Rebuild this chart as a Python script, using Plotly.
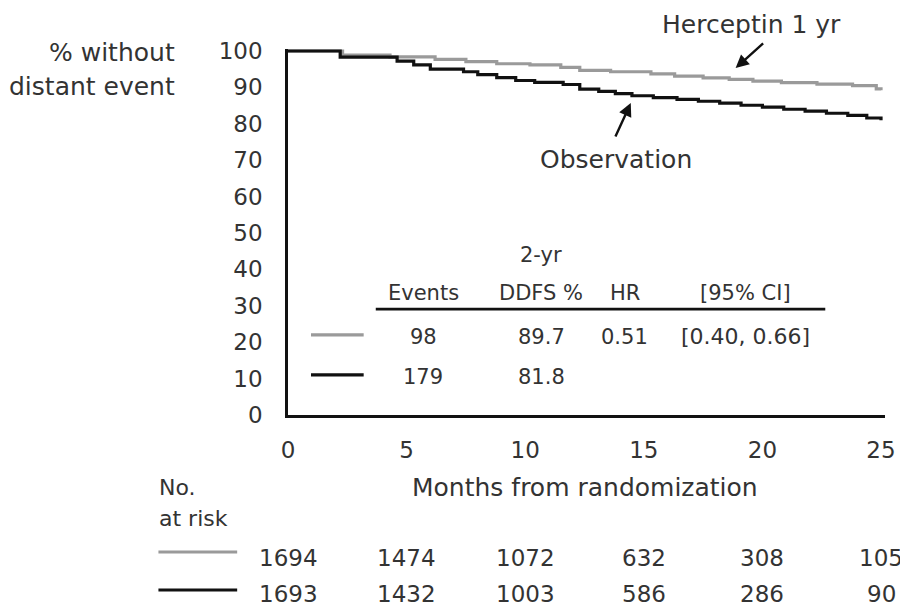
import plotly.graph_objects as go

# ---------------- data ----------------
herceptin_months = [0, 2.3, 4.3, 6.2, 7.5, 8.8, 10.2, 11.5, 12.3, 13.6, 15.3, 16.3, 17.5, 18.6, 19.6, 20.8, 22.3, 23.8, 24.8, 25.0]
herceptin_surv = [100, 98.9, 98.4, 97.7, 97.1, 96.5, 96.2, 95.5, 94.7, 94.3, 93.7, 93.1, 92.6, 92.2, 91.7, 91.3, 90.9, 90.5, 89.6, 89.2]

observation_months = [0, 2.2, 4.6, 5.3, 6.0, 7.4, 8.0, 8.8, 9.6, 10.4, 11.6, 12.3, 13.1, 13.8, 14.5, 15.4, 16.4, 17.3, 18.2, 19.1, 20.0, 20.9, 21.8, 22.7, 23.6, 24.4, 25.0]
observation_surv = [100, 98.3, 97.2, 96.2, 95.0, 94.3, 93.5, 92.7, 91.9, 91.4, 90.8, 89.5, 88.9, 88.3, 87.7, 87.2, 86.7, 86.2, 85.7, 85.1, 84.6, 84.0, 83.5, 82.9, 82.3, 81.6, 81.0]

x_ticks = [0, 5, 10, 15, 20, 25]
y_ticks = [0, 10, 20, 30, 40, 50, 60, 70, 80, 90, 100]

at_risk_months = [0, 5, 10, 15, 20, 25]
at_risk_herceptin = [1694, 1474, 1072, 632, 308, 105]
at_risk_observation = [1693, 1432, 1003, 586, 286, 90]

table_header = ["Events", "DDFS %", "HR", "[95% CI]"]
events = [98, 179]
ddfs_2yr = [89.7, 81.8]
hr_text = "0.51"
ci_text = "[0.40, 0.66]"

GRAY = "#9a9a9a"
BLACK = "#111111"
TXT = "#333333"
FONT = "DejaVu Sans"

# ---------------- layout geometry ----------------
# the page body has an 8px margin, so the figure is drawn 8px right/down
OFF = 8
W, H = 900, 598
# screen coordinates of the plot area
SX0, SX1, SY0, SY1 = 288, 887, 49, 415
ML, MR = SX0 - OFF, W - (SX1 - OFF)
MT, MB = SY0 - OFF, H - (SY1 - OFF)
PH = SY1 - SY0
PW = SX1 - SX0


def py(Y):
    """screen pixel row -> paper y"""
    return (SY1 - Y) / PH


def pxp(X):
    """screen pixel column -> paper x"""
    return (X - SX0) / PW


fig = go.Figure()
fig.add_trace(go.Scatter(x=herceptin_months, y=herceptin_surv, mode="lines",
                         line=dict(color=GRAY, width=3.2, shape="hv"), showlegend=False))
fig.add_trace(go.Scatter(x=observation_months, y=observation_surv, mode="lines",
                         line=dict(color=BLACK, width=3.2, shape="hv"), showlegend=False))

ann = []
shapes = []

# axis-side labels
ann.append(dict(x=pxp(177), y=py(52), xref="paper", yref="paper", text="% without",
                showarrow=False, xanchor="right", yanchor="middle", font=dict(size=25)))
ann.append(dict(x=pxp(177), y=py(86), xref="paper", yref="paper", text="distant event",
                showarrow=False, xanchor="right", yanchor="middle", font=dict(size=25)))
ann.append(dict(x=pxp(586), y=py(488), xref="paper", yref="paper", text="Months from randomization",
                showarrow=False, xanchor="center", yanchor="middle", font=dict(size=25)))

# curve labels + arrows
ann.append(dict(x=pxp(753), y=py(25), xref="paper", yref="paper", text="Herceptin 1 yr", showarrow=False,
                xanchor="center", yanchor="middle", font=dict(size=25)))
ann.append(dict(x=18.87, y=95.3, xref="x", yref="y", text="", showarrow=True, ax=29, ay=-26,
                arrowhead=2, arrowsize=1.1, arrowwidth=2.4, arrowcolor=BLACK))
ann.append(dict(x=13.82, y=70.3, xref="x", yref="y", text="Observation", showarrow=False,
                xanchor="center", yanchor="middle", font=dict(size=25)))
ann.append(dict(x=14.45, y=85.7, xref="x", yref="y", text="", showarrow=True, ax=-16, ay=35,
                arrowhead=2, arrowsize=1.1, arrowwidth=2.4, arrowcolor=BLACK))

# inset table
col_x = [5.71, 10.67, 14.2, 19.29]
for cx, t in zip(col_x, table_header):
    ann.append(dict(x=cx, y=33.6, xref="x", yref="y", text=t, showarrow=False,
                    xanchor="center", yanchor="middle", font=dict(size=21)))
ann.append(dict(x=col_x[1], y=44.0, xref="x", yref="y", text="2-yr", showarrow=False,
                xanchor="center", yanchor="middle", font=dict(size=21)))
shapes.append(dict(type="line", xref="x", yref="y", x0=3.7, x1=22.65, y0=29.1, y1=29.1,
                   line=dict(color=BLACK, width=2.6)))
row_y = [21.5, 10.5]
row_col = [GRAY, BLACK]
for i in range(2):
    shapes.append(dict(type="line", xref="x", yref="y", x0=0.97, x1=3.19,
                       y0=row_y[i] + 0.5, y1=row_y[i] + 0.5, line=dict(color=row_col[i], width=3.2)))
    ann.append(dict(x=col_x[0], y=row_y[i], xref="x", yref="y", text=str(events[i]),
                    showarrow=False, xanchor="center", yanchor="middle", font=dict(size=21)))
    ann.append(dict(x=col_x[1], y=row_y[i], xref="x", yref="y", text=f"{ddfs_2yr[i]:.1f}",
                    showarrow=False, xanchor="center", yanchor="middle", font=dict(size=21)))
ann.append(dict(x=col_x[2], y=row_y[0], xref="x", yref="y", text=hr_text, showarrow=False,
                xanchor="center", yanchor="middle", font=dict(size=21)))
ann.append(dict(x=col_x[3], y=row_y[0], xref="x", yref="y", text=ci_text, showarrow=False,
                xanchor="center", yanchor="middle", font=dict(size=22)))

# number at risk
ann.append(dict(x=pxp(157), y=py(488), xref="paper", yref="paper", text="No.", showarrow=False,
                xanchor="left", yanchor="middle", font=dict(size=22)))
ann.append(dict(x=pxp(157), y=py(519), xref="paper", yref="paper", text="at risk", showarrow=False,
                xanchor="left", yanchor="middle", font=dict(size=22)))
risk_rows = [(at_risk_herceptin, GRAY, 558, 552), (at_risk_observation, BLACK, 594, 590)]
for vals, col, ty, ly in risk_rows:
    shapes.append(dict(type="line", xref="paper", yref="paper", x0=pxp(158), x1=pxp(237),
                       y0=py(ly), y1=py(ly), line=dict(color=col, width=3.2)))
    for m, v in zip(at_risk_months, vals):
        ann.append(dict(x=m, y=py(ty), xref="x", yref="paper", text=str(v), showarrow=False,
                        xanchor="center", yanchor="middle", font=dict(size=23)))

fig.update_layout(
    width=W, height=H,
    margin=dict(l=ML, r=MR, t=MT, b=MB),
    paper_bgcolor="white", plot_bgcolor="white",
    font=dict(family=FONT, color=TXT, size=23),
    annotations=ann, shapes=shapes, showlegend=False,
)
fig.update_xaxes(range=[0, 25 * PW / 595], tickvals=x_ticks, ticktext=[str(v) for v in x_ticks],
                 showgrid=False, zeroline=False, showline=True, linecolor=BLACK, linewidth=2.6,
                 ticks="", ticklabelstandoff=13, tickfont=dict(size=23, color=TXT))
fig.update_yaxes(range=[0, 100 * PH / 364], tickvals=y_ticks, ticktext=[str(v) for v in y_ticks],
                 showgrid=False, zeroline=False, showline=True, linecolor=BLACK, linewidth=2.6,
                 ticks="", ticklabelstandoff=18, tickfont=dict(size=23, color=TXT))

fig.write_html("out.html")
